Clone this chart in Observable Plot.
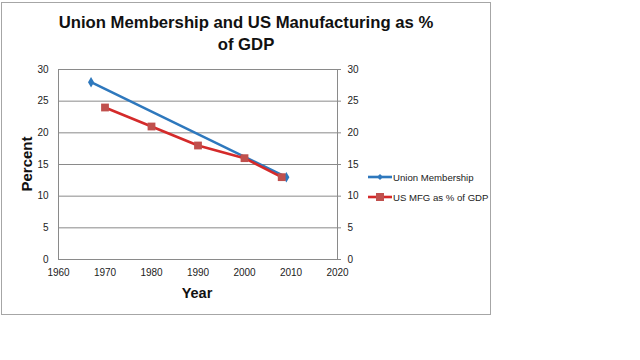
<!DOCTYPE html>
<html><head><meta charset="utf-8">
<script src="https://cdn.jsdelivr.net/npm/d3@7"></script>
<script src="https://cdn.jsdelivr.net/npm/@observablehq/plot@0.6"></script>
<style>
html,body{margin:0;padding:0;background:#fff;}
#wrap{position:relative;width:640px;height:360px;overflow:hidden;font-family:"Liberation Sans",Arial,sans-serif;}
#box{position:absolute;left:1px;top:2px;width:490px;height:313px;border:1px solid #a6a6a6;box-sizing:border-box;}
#chart{position:absolute;left:0;top:0;}
.t{position:absolute;white-space:nowrap;color:#111;}
#title{left:0;width:492px;top:12px;text-align:center;font-family:"Liberation Sans",sans-serif;font-weight:bold;font-size:16.7px;line-height:22px;}
#ylab{left:26px;top:164px;transform:translate(-50%,-50%) rotate(-90deg);font-weight:bold;font-size:15px;}
#xlab{left:197px;top:293px;transform:translate(-50%,-50%);font-weight:bold;font-size:14.5px;}
#legend{position:absolute;left:368px;top:167px;font-size:9.6px;color:#222;}
.li{display:flex;align-items:center;height:20px;}
.li svg{margin-right:1px;}
</style></head>
<body><div id="wrap">
<div id="box"></div>
<div id="chart"></div>
<div id="title" class="t">Union Membership and US Manufacturing as %<br>of GDP</div>
<div id="ylab" class="t">Percent</div>
<div id="xlab" class="t">Year</div>
<div id="legend"></div>
</div>
<script>
const seriesNames = ["Union Membership", "US MFG as % of GDP"];
const seriesColors = ["#2e78bd", "#d42a2a"];
const markerColors = ["#2e78bd", "#c0504d"];
const unionYears = [1967, 2009];
const unionValues = [28, 13];
const mfgYears = [1970, 1980, 1990, 2000, 2008];
const mfgValues = [24, 21, 18, 16, 13];
const xTicks = [1960, 1970, 1980, 1990, 2000, 2010, 2020];
const yTicks = [0, 5, 10, 15, 20, 25, 30];

const union = unionYears.map((y, i) => ({year: y, value: unionValues[i]}));
const mfg = mfgYears.map((y, i) => ({year: y, value: mfgValues[i]}));

const chart = Plot.plot({
  width: 640, height: 360,
  marginLeft: 58, marginRight: 303, marginTop: 69, marginBottom: 101,
  x: {domain: [1960, 2020]},
  y: {domain: [0, 30]},
  style: {background: "transparent", fontFamily: "'Liberation Sans', Arial, sans-serif", fontSize: "10px", color: "#222", overflow: "visible"},
  marks: [
    Plot.gridY(yTicks, {stroke: "#8a8a8a", strokeOpacity: 1}),
    Plot.frame({stroke: "#8a8a8a"}),
    Plot.axisY(yTicks, {anchor: "left", tickSize: 0, tickPadding: 10, label: null}),
    Plot.axisY(yTicks, {anchor: "right", tickSize: 3, tickPadding: 7, stroke: "#8a8a8a", label: null}),
    Plot.axisX(xTicks, {anchor: "bottom", tickSize: 0, tickPadding: 9, label: null, tickFormat: d => String(d)}),
    Plot.line(union, {x: "year", y: "value", stroke: seriesColors[0], strokeWidth: 2.6}),
    Plot.line(mfg, {x: "year", y: "value", stroke: seriesColors[1], strokeWidth: 2.6}),
    Plot.dot(union, {x: "year", y: "value", symbol: "diamond", r: 3.2, fill: markerColors[0], stroke: "none"}),
    Plot.dot(mfg, {x: "year", y: "value", symbol: "square", r: 4.4, fill: markerColors[1], stroke: "none"})
  ]
});
document.getElementById("chart").appendChild(chart);

const leg = document.getElementById("legend");
const syms = ["diamond", "square"];
seriesNames.forEach((name, i) => {
  const row = document.createElement("div");
  row.className = "li";
  const marker = syms[i] === "diamond"
    ? `<path d="M12,7 L15,10 L12,13 L9,10 Z" fill="${markerColors[i]}"/>`
    : `<rect x="8" y="6" width="8" height="8" fill="${markerColors[i]}"/>`;
  row.innerHTML = `<svg width="24" height="20"><line x1="0" x2="24" y1="10" y2="10" stroke="${seriesColors[i]}" stroke-width="2.6"/>${marker}</svg><span>${name}</span>`;
  leg.appendChild(row);
});
</script>
</body></html>
